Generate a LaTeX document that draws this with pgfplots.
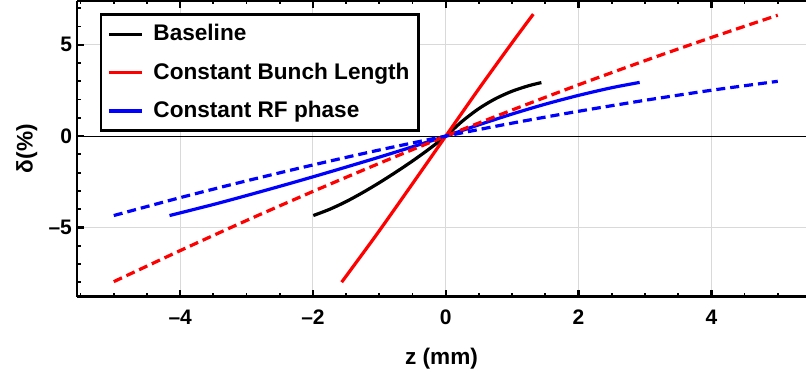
\documentclass[border=0pt]{standalone}
\usepackage{fontspec}
\setmainfont{Liberation Sans}
\usepackage{pgfplots}
\pgfplotsset{compat=1.18}
\pgfplotstableread{
z d
-1.995 -4.35
-1.75 -4.01
-1.5 -3.585
-1.25 -3.09
-1.0 -2.55
-0.75 -1.97
-0.5 -1.36
-0.25 -0.705
0 0
0.25 0.82
0.5 1.51
0.75 2.05
1.0 2.46
1.25 2.76
1.44 2.93
}\baseline
\pgfplotstableread{
z d
-1.568 -8.0
-1.2 -6.18
-0.965 -5.0
-0.5 -2.6
0 0
0.5 2.6
1.0 5.12
1.318 6.68
}\redsolid
\pgfplotstableread{
z d
-4.16 -4.35
-3.5 -3.745
-3.0 -3.255
-2.5 -2.75
-2.0 -2.23
-1.5 -1.695
-1.0 -1.15
-0.5 -0.585
0 0
0.5 0.62
1.0 1.21
1.5 1.75
2.0 2.23
2.5 2.65
2.92 2.94
}\bluesolid
\pgfplotstableread{
z d
-5 -7.97
-4 -6.27
-3 -4.62
-2 -3.03
-1 -1.49
0 0
1 1.43
2 2.81
3 4.13
4 5.40
5 6.62
}\reddashed
\pgfplotstableread{
z d
-5 -4.35
-4 -3.37
-3 -2.45
-2 -1.58
-1 -0.76
0 0
1 0.71
2 1.36
3 1.96
4 2.51
5 3.0
}\bluedashed
\begin{document}
\begin{tikzpicture}
\begin{axis}[
  name=ax,
  scale only axis,
  width=364.5pt, height=148pt,
  xmin=-5.554, xmax=5.425, ymin=-8.79, ymax=7.42,
  axis x line=box, axis y line=left,
  axis line style={-, line width=1.4pt},
  tick align=inside,
  xtick={-4,-2,0,2,4}, xticklabels={–4,–2,0,2,4},
  ytick={-5,0,5}, yticklabels={–5,0,5},
  minor xtick={-5.5,-5,...,5},
  minor ytick={-8,-7,...,7},
  major tick length=3.5pt, minor tick length=1.8pt,
  major tick style={line width=1.2pt, black},
  minor tick style={line width=0.9pt, black},
  grid=major, major grid style={black!15, line width=0.5pt},
  ticklabel style={font=\bfseries\fontsize{10.5}{12}\selectfont},
  xticklabel style={yshift=-3pt},
  yticklabel style={xshift=1pt},
  xticklabel pos=lower,
  xlabel={z (mm)}, ylabel={δ(\%)},
  label style={font=\bfseries\fontsize{11.3}{13}\selectfont},
  xlabel style={at={(axis description cs:0.5,-0.21)}, anchor=center},
  ylabel style={at={(axis description cs:-0.069,0.5)}, anchor=center},
  legend style={at={(axis description cs:0.0316,0.957)}, anchor=north west,
    draw=black, line width=1.2pt, fill=white, inner xsep=3pt, inner ysep=3.5pt,
    row sep=6.5pt, font=\bfseries\fontsize{11.3}{13}\selectfont,
    nodes={inner sep=1.5pt},
    /tikz/every odd column/.append style={column sep=3.5pt}},
  legend cell align=left,
  legend image code/.code={\draw[#1] (0pt,0pt) -- (16.5pt,0pt);},
]
\addplot[black, line width=0.5pt, forget plot] coordinates {(-5.554,0) (5.425,0)};
\addplot[black, line width=1.6pt, smooth] table[x=z,y=d] {\baseline};
\addlegendentry{Baseline}
\addplot[red, line width=1.6pt, smooth] table[x=z,y=d] {\redsolid};
\addlegendentry{Constant Bunch Length}
\addplot[blue, line width=1.6pt, smooth] table[x=z,y=d] {\bluesolid};
\addlegendentry{Constant RF phase}
\addplot[red, line width=1.6pt, smooth, dash pattern=on 4.5pt off 2.5pt, forget plot] table[x=z,y=d] {\reddashed};
\addplot[blue, line width=1.6pt, smooth, dash pattern=on 4.5pt off 2.5pt, forget plot] table[x=z,y=d] {\bluedashed};
\end{axis}
\pgfresetboundingbox
\path ([xshift=-38.5pt,yshift=-39pt]ax.south west) rectangle ([yshift=0.3pt]ax.north east);
\end{tikzpicture}
\end{document}
